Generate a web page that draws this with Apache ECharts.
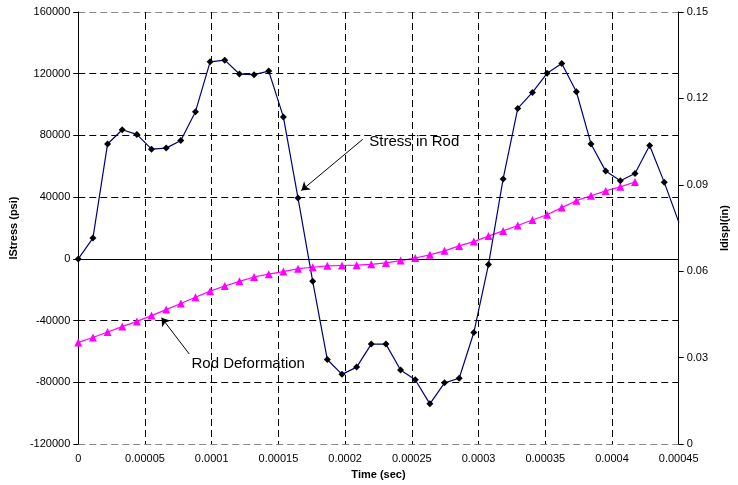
<!DOCTYPE html>
<html>
<head>
<meta charset="utf-8">
<script src="https://cdn.jsdelivr.net/npm/echarts@6/dist/echarts.min.js"></script>
<style>
html,body{margin:0;padding:0;background:#fff;}
#c{width:738px;height:485px;}
</style>
</head>
<body>
<div id="c"></div>
<script>
// Time (sec) of each sample
var timeSec = [0, 0.00001098, 0.00002196, 0.00003294, 0.00004392, 0.0000549, 0.00006588, 0.00007686,
  0.00008784, 0.00009882, 0.0001098, 0.00012078, 0.00013176, 0.00014274, 0.00015372, 0.0001647,
  0.00017568, 0.00018666, 0.00019764, 0.00020862, 0.0002196, 0.00023058, 0.00024156, 0.00025254,
  0.00026352, 0.0002745, 0.00028548, 0.00029646, 0.00030744, 0.00031842, 0.0003294, 0.00034038,
  0.00035136, 0.00036234, 0.00037332, 0.0003843, 0.00039528, 0.00040626, 0.00041724, 0.00042822,
  0.0004392, 0.00045018];
// Stress in Rod (psi)
var stressPsi = [0, 13500, 74500, 83700, 80700, 71100, 71800, 76700, 95400, 127700, 128800, 119800,
  119400, 121700, 92000, 39400, -14400, -65200, -74800, -70100, -55200, -55200, -72000, -78300,
  -93900, -80300, -77300, -47700, -3700, 51800, 97500, 107900, 120300, 126600, 108300, 74500,
  56900, 50700, 55400, 73500, 49600, 23500];
// Rod Deformation (in)
var dispIn = [0.0353, 0.0370, 0.0389, 0.0408, 0.0426, 0.0446, 0.0467, 0.0488, 0.0510, 0.0531,
  0.0549, 0.0565, 0.0580, 0.0590, 0.0599, 0.0609, 0.0614, 0.0619, 0.0620, 0.0621, 0.0624, 0.0629,
  0.0637, 0.0646, 0.0657, 0.0671, 0.0688, 0.0703, 0.0722, 0.0740, 0.0759, 0.0778, 0.0796, 0.0821,
  0.0845, 0.0862, 0.0879, 0.0893, 0.0910];
// Tick labels
var xTickLabels = ['0', '0.00005', '0.0001', '0.00015', '0.0002', '0.00025', '0.0003', '0.00035', '0.0004', '0.00045'];
var yLeftTickLabels = ['-120000', '-80000', '-40000', '0', '40000', '80000', '120000', '160000'];
var yRightTickLabels = ['0', '0.03', '0.06', '0.09', '0.12', '0.15'];

var FONT = 'Liberation Sans, Arial, sans-serif';
var stressData = timeSec.map(function (t, i) { return [t, stressPsi[i]]; });
var dispData = dispIn.map(function (d, i) { return [timeSec[i], d]; });

function pick(arr, v, min, step) {
  var i = Math.round((v - min) / step);
  return arr[i] !== undefined ? arr[i] : '';
}

var chart = echarts.init(document.getElementById('c'), null, {renderer: 'canvas'});
chart.setOption({
  animation: false,
  backgroundColor: '#fff',
  textStyle: {fontFamily: FONT},
  grid: {left: 77, right: 56, top: 12, bottom: 32, containLabel: false},
  xAxis: {
    type: 'value', min: 0, max: 0.00045, interval: 0.00005,
    name: 'Time (sec)', nameLocation: 'middle', nameGap: 21,
    nameTextStyle: {fontFamily: FONT, fontSize: 11, fontWeight: 'bold', color: '#000'},
    axisLine: {show: false},
    axisTick: {show: false},
    axisLabel: {fontFamily: FONT, fontSize: 11, color: '#000', margin: 9,
      formatter: function (v) { return pick(xTickLabels, v, 0, 0.00005); }},
    splitLine: {show: true, lineStyle: {color: '#000', type: [7, 4], width: 1}}
  },
  yAxis: [{
    type: 'value', min: -120000, max: 160000, interval: 40000, position: 'left',
    name: 'lStress (psi)', nameLocation: 'middle', nameGap: 50, nameRotate: 90,
    nameTextStyle: {fontFamily: FONT, fontSize: 11, fontWeight: 'bold', color: '#000'},
    axisLine: {show: true, onZero: false, lineStyle: {color: '#000', width: 1}},
    axisTick: {show: true, inside: false, length: 5, lineStyle: {color: '#000'}},
    axisLabel: {fontFamily: FONT, fontSize: 11, color: '#000', margin: 8,
      formatter: function (v) { return pick(yLeftTickLabels, v, -120000, 40000); }},
    splitLine: {show: true, lineStyle: {
      color: ['#888', '#000', '#000', '#000', '#000', '#000', '#000', '#888'],
      type: [7, 4], width: 1}}
  }, {
    type: 'value', min: 0, max: 0.15, interval: 0.03, position: 'right',
    name: 'ldispl(in)', nameLocation: 'middle', nameGap: 34, nameRotate: 90,
    nameTextStyle: {fontFamily: FONT, fontSize: 11, fontWeight: 'bold', color: '#000'},
    axisLine: {show: true, onZero: false, lineStyle: {color: '#000', width: 1}},
    axisTick: {show: true, inside: false, length: 5, lineStyle: {color: '#000'}},
    axisLabel: {fontFamily: FONT, fontSize: 11, color: '#000', margin: 8,
      formatter: function (v) { return pick(yRightTickLabels, v, 0, 0.03); }},
    splitLine: {show: false}
  }],
  series: [{
    name: 'Rod Deformation', type: 'line', yAxisIndex: 1, data: dispData,
    symbol: 'triangle', symbolSize: 8, showAllSymbol: true,
    itemStyle: {color: '#ff00ff', borderWidth: 0},
    lineStyle: {color: '#ff00ff', width: 1.2},
    markLine: {
      silent: true, animation: false,
      lineStyle: {color: '#000', width: 1, type: 'solid'},
      label: {show: false},
      data: [[{coord: [0.0000832, 0.03127], symbol: 'none'},
              {coord: [0.0000624, 0.04389], symbol: 'arrow', symbolSize: 8}]]
    },
    markPoint: {
      silent: true, animation: false,
      symbol: 'rect', symbolSize: 1, itemStyle: {color: 'rgba(0,0,0,0)'},
      label: {show: true, position: 'right', distance: 0, color: '#000', fontFamily: FONT, fontSize: 15},
      data: [{coord: [0.0000845, 0.0279], value: 'Rod Deformation',
        label: {formatter: 'Rod Deformation'}}]
    }
  }, {
    name: 'Stress in Rod', type: 'line', yAxisIndex: 0, data: stressData,
    symbol: 'diamond', symbolSize: 7, showAllSymbol: true,
    itemStyle: {color: '#000', borderWidth: 0},
    lineStyle: {color: '#000080', width: 1.2},
    markLine: {
      silent: true, animation: false,
      lineStyle: {color: '#000', width: 1, type: 'solid'},
      label: {show: false},
      data: [
        [{coord: [0, 0], symbol: 'none'}, {coord: [0.00045, 0], symbol: 'none'}],
        [{coord: [0.0002132, 77500], symbol: 'none'},
         {coord: [0.0001672, 44300], symbol: 'arrow', symbolSize: 8}]
      ]
    },
    markPoint: {
      silent: true, animation: false,
      symbol: 'rect', symbolSize: 1, itemStyle: {color: 'rgba(0,0,0,0)'},
      label: {show: true, position: 'right', distance: 0, color: '#000', fontFamily: FONT, fontSize: 15},
      data: [{coord: [0.0002177, 75600], value: 'Stress in Rod',
        label: {formatter: 'Stress in Rod'}}]
    }
  }]
});
</script>
</body>
</html>
